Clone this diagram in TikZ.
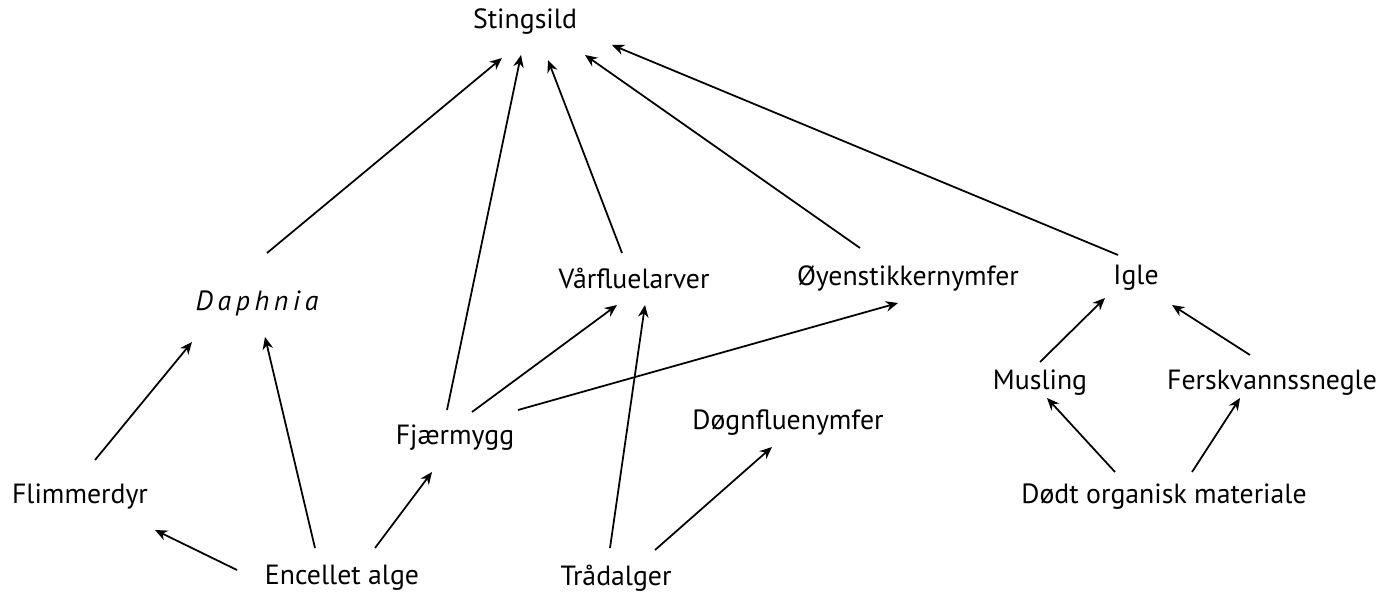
\documentclass[tikz,border=0pt]{standalone}
\usepackage{fontspec}
\setmainfont{PT Sans}
\usetikzlibrary{arrows.meta}
\begin{document}
\begin{tikzpicture}[x=0.02cm,y=-0.02cm,
  lab/.style={font=\fontsize{15.8}{18}\selectfont, inner sep=0pt},
  arr/.style={line width=1pt,-{Stealth[length=7pt,width=6pt]}}]
\useasboundingbox (0,0) rectangle (1391,608);
\node[lab] (S) at (525,22) {Stingsild};
\node[lab] (D) at (257,303) {\itshape D\,a\,p\,h\,n\,i\,a};
\node[lab] (V) at (634,278) {Vårfluelarver};
\node[lab] (O) at (908,278) {Øyenstikkernymfer};
\node[lab] (I) at (1136,278) {Igle};
\node[lab] (F) at (80,497) {Flimmerdyr};
\node[lab] (J) at (455,438) {Fjærmygg};
\node[lab] (G) at (788,423) {Døgnfluenymfer};
\node[lab] (M) at (1040,383) {Musling};
\node[lab] (K) at (1272,383) {Ferskvannssnegle};
\node[lab] (E) at (342,578) {Encellet alge};
\node[lab] (T) at (616,578) {Trådalger};
\node[lab] (R) at (1164,497) {Dødt organisk materiale};
\newcommand\ar[6]{\draw[arr] ([shift={(#2,#3)}]#1.center) -- ([shift={(#5,#6)}]#4.center);}
\ar{D}{10}{-50}{S}{-23}{36}
\ar{J}{-8}{-28}{S}{-4}{33}
\ar{V}{-12}{-25}{S}{23}{38}
\ar{O}{-48}{-30}{S}{60}{33}
\ar{I}{-18}{-23}{S}{87}{23}
\ar{F}{15}{-37}{D}{-65}{39}
\ar{E}{-27}{-30}{D}{8}{34}
\ar{E}{-105}{-8}{F}{75}{33}
\ar{E}{33}{-30}{J}{-23}{34}
\ar{J}{17}{-26}{V}{-17}{27}
\ar{J}{63}{-28}{O}{-10}{25}
\ar{T}{-6}{-30}{V}{11}{27}
\ar{T}{39}{-28}{G}{-16}{24}
\ar{M}{0}{-21}{I}{-31}{20}
\ar{K}{-22}{-28}{I}{36}{27}
\ar{R}{-49}{-25}{M}{7}{15}
\ar{R}{28}{-25}{K}{-32}{15}
\end{tikzpicture}
\end{document}
